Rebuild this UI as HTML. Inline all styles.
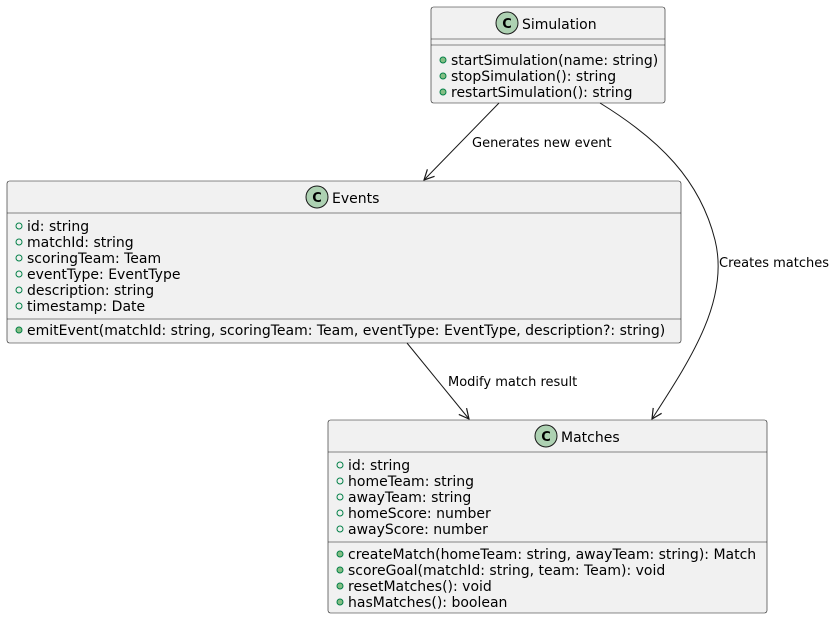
<!DOCTYPE html>
<html><head><meta charset="utf-8"><style>
html,body{margin:0;padding:0;background:#fff}
svg{display:block;font-family:"DejaVu Sans","Liberation Sans",sans-serif}
</style></head><body>
<svg width="836" height="620" viewBox="0 0 836 620" xmlns="http://www.w3.org/2000/svg">
<defs>
<marker id="a" viewBox="0 0 12 12" refX="11" refY="6" markerWidth="12" markerHeight="12" orient="auto" markerUnits="userSpaceOnUse">
<path d="M1,1 L11,6 L1,11" fill="none" stroke="#181818" stroke-width="1.2"/>
</marker>
</defs>
<g fill="#F1F1F1" stroke="#181818" stroke-width="0.6">
<rect x="431" y="7" width="234" height="96" rx="2.5"/>
<rect x="7" y="181" width="674" height="162" rx="2.5"/>
<rect x="328" y="420" width="439" height="193" rx="2.5"/>
</g>
<g stroke="#181818" stroke-width="0.6">
<line x1="431" y1="39" x2="665" y2="39"/><line x1="431" y1="45" x2="665" y2="45"/>
<line x1="7" y1="213" x2="681" y2="213"/><line x1="7" y1="319" x2="681" y2="319"/>
<line x1="328" y1="452" x2="767" y2="452"/><line x1="328" y1="542" x2="767" y2="542"/>
</g>
<g fill="#ADD1B2" stroke="#181818" stroke-width="1">
<circle cx="507" cy="23" r="11"/><circle cx="317" cy="197" r="11"/><circle cx="546" cy="436" r="11"/>
</g>
<g font-size="13" font-weight="bold" text-anchor="middle" fill="#000">
<text x="507" y="28">C</text><text x="317" y="202">C</text><text x="546" y="441">C</text>
</g>
<g font-size="14" fill="#000">
<text x="522" y="29">Simulation</text>
<text x="332" y="203">Events</text>
<text x="561" y="442">Matches</text>
</g>
<g fill="#84BE84" stroke="#038048" stroke-width="1">
<circle cx="443" cy="60" r="3"/><circle cx="443" cy="76" r="3"/><circle cx="443" cy="92" r="3"/>
<circle cx="19" cy="330" r="3"/>
<circle cx="340" cy="554" r="3"/><circle cx="340" cy="570" r="3"/><circle cx="340" cy="586" r="3"/><circle cx="340" cy="602" r="3"/>
</g>
<g fill="none" stroke="#038048" stroke-width="1">
<circle cx="19" cy="226" r="3"/><circle cx="19" cy="242" r="3"/><circle cx="19" cy="258" r="3"/><circle cx="19" cy="274" r="3"/><circle cx="19" cy="290" r="3"/><circle cx="19" cy="306" r="3"/>
<circle cx="340" cy="465" r="3"/><circle cx="340" cy="481" r="3"/><circle cx="340" cy="497" r="3"/><circle cx="340" cy="513" r="3"/><circle cx="340" cy="529" r="3"/>
</g>
<g font-size="14" fill="#000">
<text x="451" y="65">startSimulation(name: string)</text>
<text x="451" y="81">stopSimulation(): string</text>
<text x="451" y="97">restartSimulation(): string</text>
<text x="27" y="231">id: string</text>
<text x="27" y="247">matchId: string</text>
<text x="27" y="263">scoringTeam: Team</text>
<text x="27" y="279">eventType: EventType</text>
<text x="27" y="295">description: string</text>
<text x="27" y="311">timestamp: Date</text>
<text x="27" y="335">emitEvent(matchId: string, scoringTeam: Team, eventType: EventType, description?: string)</text>
<text x="348" y="470">id: string</text>
<text x="348" y="486">homeTeam: string</text>
<text x="348" y="502">awayTeam: string</text>
<text x="348" y="518">homeScore: number</text>
<text x="348" y="534">awayScore: number</text>
<text x="348" y="559">createMatch(homeTeam: string, awayTeam: string): Match</text>
<text x="348" y="575">scoreGoal(matchId: string, team: Team): void</text>
<text x="348" y="591">resetMatches(): void</text>
<text x="348" y="607">hasMatches(): boolean</text>
</g>
<g fill="none" stroke="#181818" stroke-width="1" marker-end="url(#a)">
<line x1="499" y1="103" x2="424" y2="180"/>
<line x1="407" y1="343" x2="469" y2="419"/>
<path d="M600,103 C660,140 700,180 715,240 C730,300 690,360 652,419"/>
</g>
<g font-size="13" fill="#000">
<text x="472" y="147">Generates new event</text>
<text x="719" y="267">Creates matches</text>
<text x="448" y="386">Modify match result</text>
</g>
</svg>
</body></html>
